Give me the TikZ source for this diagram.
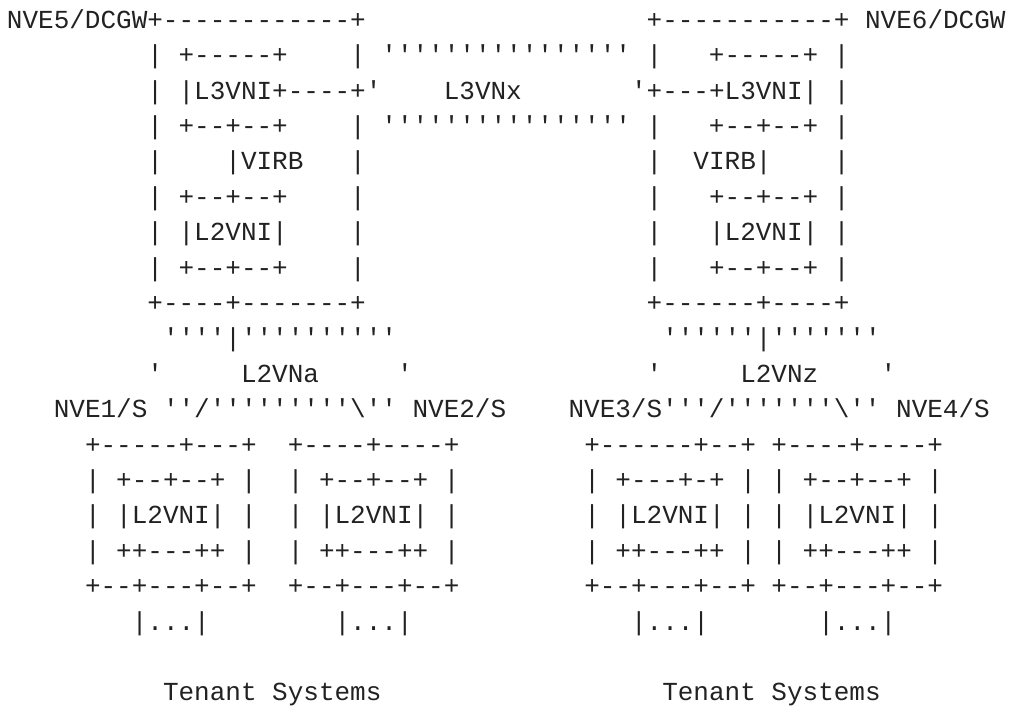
\documentclass[tikz,border=0pt]{standalone}
\usepackage{fontspec}
\setmonofont{Liberation Mono}
\definecolor{ink}{HTML}{222222}
% one row of the character grid: #1 = row number, #2 = first column, #3 = text
\newcommand\asciiline[3]{%
  \node[ascii] (line#1) at ({7+15.6*#2},{28.3+35.4*(#1-1)}) {#3};}
\begin{document}
\begin{tikzpicture}[x=0.75pt,y=-0.75pt,
  ascii/.style={anchor=base west,inner sep=0pt,outer sep=0pt,text=ink,
    font=\ttfamily\fontsize{19.5}{19.5}\selectfont}]
\fill[white] (0,0) rectangle (1010,707);
\useasboundingbox (0,0) rectangle (1010,707);
% gateways NVE5 and NVE6 with the L3VNx overlay between them
\asciiline{1}{0}{NVE5/DCGW+------------+~~~~~~~~~~~~~~~~~~+-----------+~NVE6/DCGW}
\asciiline{2}{9}{|~+-----+~~~~|~''''''''''''''''~|~~~+-----+~|}
\asciiline{3}{9}{|~|L3VNI+----+'~~~~L3VNx~~~~~~~'+---+L3VNI|~|}
\asciiline{4}{9}{|~+--+--+~~~~|~''''''''''''''''~|~~~+--+--+~|}
\asciiline{5}{9}{|~~~~|VIRB~~~|~~~~~~~~~~~~~~~~~~|~~VIRB|~~~~|}
\asciiline{6}{9}{|~+--+--+~~~~|~~~~~~~~~~~~~~~~~~|~~~+--+--+~|}
\asciiline{7}{9}{|~|L2VNI|~~~~|~~~~~~~~~~~~~~~~~~|~~~|L2VNI|~|}
\asciiline{8}{9}{|~+--+--+~~~~|~~~~~~~~~~~~~~~~~~|~~~+--+--+~|}
\asciiline{9}{9}{+----+-------+~~~~~~~~~~~~~~~~~~+------+----+}
% the two L2 overlays
\asciiline{10}{10}{''''|''''''''''~~~~~~~~~~~~~~~~~''''''|'''''''}
\asciiline{11}{9}{'~~~~~L2VNa~~~~~'~~~~~~~~~~~~~~~'~~~~~L2VNz~~~~'}
\asciiline{12}{3}{NVE1/S~''/'''''''''\textbackslash''~NVE2/S~~~~NVE3/S'''/'''''''\textbackslash''~NVE4/S}
% the four NVE/S switches
\asciiline{13}{5}{+-----+---+~~+----+----+~~~~~~~~+------+--+~+----+----+}
\asciiline{14}{5}{|~+--+--+~|~~|~+--+--+~|~~~~~~~~|~+---+-+~|~|~+--+--+~|}
\asciiline{15}{5}{|~|L2VNI|~|~~|~|L2VNI|~|~~~~~~~~|~|L2VNI|~|~|~|L2VNI|~|}
\asciiline{16}{5}{|~++---++~|~~|~++---++~|~~~~~~~~|~++---++~|~|~++---++~|}
\asciiline{17}{5}{+--+---+--+~~+--+---+--+~~~~~~~~+--+---+--+~+--+---+--+}
\asciiline{18}{8}{|...|~~~~~~~~|...|~~~~~~~~~~~~~~|...|~~~~~~~|...|}
% tenant systems
\asciiline{20}{10}{Tenant~Systems~~~~~~~~~~~~~~~~~~Tenant~Systems}
\end{tikzpicture}
\end{document}
